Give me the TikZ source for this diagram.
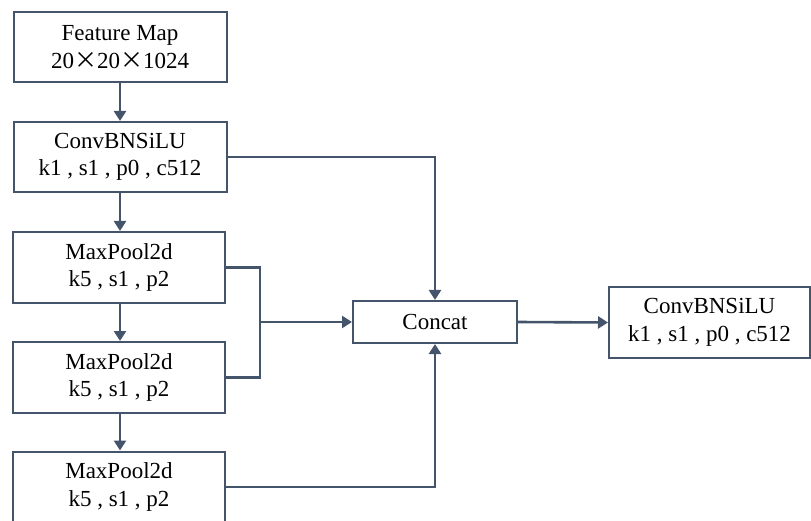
\documentclass[tikz,border=0pt]{standalone}
\usepackage{fontspec}
\setmainfont{Liberation Serif}
\newfontfamily\cjkfont{Noto Sans CJK SC}
\usetikzlibrary{arrows.meta}
\definecolor{lc}{HTML}{44546A}
\newcommand{\fwx}{{\cjkfont ×}}
\begin{document}
\begin{tikzpicture}[x=1pt,y=-1pt,
  box/.style={draw=lc,line width=2pt,fill=white,inner sep=0pt,align=center,
    font=\fontsize{23pt}{27.5pt}\selectfont,text=black},
  conn/.style={draw=lc,line width=2.6pt},
  arr/.style={conn,-{Triangle[width=12pt,length=10pt]}}]
\useasboundingbox (0,0) rectangle (811,521);
\node[box,minimum width=213pt,minimum height=70pt] (fm) at (120,47) {Feature Map\\20\fwx20\fwx1024};
\node[box,minimum width=213pt,minimum height=70pt] (cv) at (120,157) {ConvBNSiLU\\k1 , s1 , p0 , c512};
\node[box,minimum width=212pt,minimum height=71pt] (m1) at (119,267.5) {MaxPool2d\\k5 , s1 , p2};
\node[box,minimum width=212pt,minimum height=71pt] (m2) at (119,377.5) {MaxPool2d\\k5 , s1 , p2};
\node[box,minimum width=212pt,minimum height=71pt] (m3) at (119,487) {MaxPool2d\\k5 , s1 , p2};
\node[box,minimum width=164pt,minimum height=42pt] (cc) at (435,322) {Concat};
\node[box,minimum width=201pt,minimum height=71pt] (out) at (709.5,322.5) {ConvBNSiLU\\k1 , s1 , p0 , c512};
\coordinate (j) at (260,322);
\draw[arr] (fm.south -| 120,0) -- (cv.north -| 120,0);
\draw[arr] (cv.south -| 120,0) -- (m1.north -| 120,0);
\draw[arr] (m1.south -| 120,0) -- (m2.north -| 120,0);
\draw[arr] (m2.south -| 120,0) -- (m3.north -| 120,0);
\draw[conn] (m1.east) -| (j) |- (m2.east);
\draw[arr] (j) -- (cc.west);
\draw[arr] (cv.east) -| (cc.north);
\draw[arr] (m3.east) -| (cc.south);
\draw[arr] (cc.east) -- (out.west);
\end{tikzpicture}
\end{document}
